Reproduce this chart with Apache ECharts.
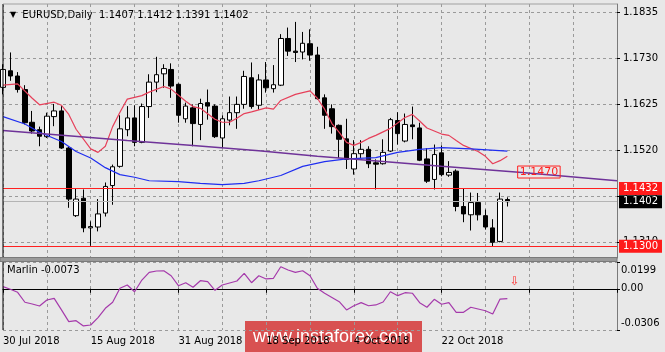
<!DOCTYPE html>
<html>
<head>
<meta charset="utf-8">
<script src="https://cdn.jsdelivr.net/npm/echarts@6/dist/echarts.min.js"></script>
<style>
  html, body { margin: 0; padding: 0; background: #e8e8e8; }
  #chart { width: 665px; height: 352px; }
</style>
</head>
<body>
<div id="chart"></div>
<script>
// EURUSD daily, 30 Jul 2018 .. early Nov 2018 (+ empty slots on the right like MT4 chart shift)
const slotCount = 85;
const dateTicks = ['30 Jul 2018', '15 Aug 2018', '31 Aug 2018', '18 Sep 2018', '4 Oct 2018', '22 Oct 2018'];

const opens = [1.1664, 1.1702, 1.1690, 1.1659, 1.1584, 1.1567, 1.1551, 1.1597, 1.1610, 1.1525,
  1.1370, 1.1410, 1.1342, 1.1344, 1.1376, 1.1439, 1.1483, 1.1567, 1.1594, 1.1538,
  1.1620, 1.1676, 1.1695, 1.1705, 1.1671, 1.1592, 1.1617, 1.1579, 1.1629, 1.1621,
  1.1548, 1.1589, 1.1606, 1.1625, 1.1686, 1.1623, 1.1681, 1.1661, 1.1669, 1.1776,
  1.1747, 1.1745, 1.1764, 1.1738, 1.1640, 1.1615, 1.1577, 1.1546, 1.1477, 1.1512,
  1.1522, 1.1491, 1.1489, 1.1518, 1.1588, 1.1541, 1.1578, 1.1571, 1.1500, 1.1453,
  1.1514, 1.1463, 1.1472, 1.1391, 1.1372, 1.1400, 1.1370, 1.1342, 1.1311, 1.1407];
const highs = [1.1717, 1.1744, 1.1699, 1.1669, 1.1610, 1.1574, 1.1606, 1.1626, 1.1621, 1.1529,
  1.1433, 1.1430, 1.1357, 1.1408, 1.1446, 1.1487, 1.1600, 1.1621, 1.1623, 1.1627,
  1.1694, 1.1734, 1.1717, 1.1719, 1.1673, 1.1629, 1.1625, 1.1638, 1.1659, 1.1625,
  1.1600, 1.1643, 1.1643, 1.1702, 1.1721, 1.1694, 1.1722, 1.1715, 1.1786, 1.1801,
  1.1814, 1.1791, 1.1797, 1.1757, 1.1648, 1.1625, 1.1579, 1.1592, 1.1543, 1.1543,
  1.1529, 1.1499, 1.1545, 1.1594, 1.1607, 1.1604, 1.1620, 1.1583, 1.1525, 1.1533,
  1.1531, 1.1495, 1.1476, 1.1433, 1.1423, 1.1422, 1.1384, 1.1362, 1.1423, 1.1412];
const lows = [1.1648, 1.1679, 1.1652, 1.1579, 1.1558, 1.1529, 1.1548, 1.1575, 1.1523, 1.1388,
  1.1367, 1.1332, 1.1301, 1.1334, 1.1368, 1.1395, 1.1480, 1.1552, 1.1529, 1.1536,
  1.1594, 1.1653, 1.1663, 1.1640, 1.1583, 1.1583, 1.1529, 1.1543, 1.1590, 1.1548,
  1.1525, 1.1577, 1.1569, 1.1615, 1.1615, 1.1613, 1.1652, 1.1652, 1.1667, 1.1736,
  1.1722, 1.1728, 1.1725, 1.1636, 1.1569, 1.1558, 1.1502, 1.1477, 1.1464, 1.1502,
  1.1479, 1.1430, 1.1487, 1.1516, 1.1533, 1.1538, 1.1545, 1.1495, 1.1445, 1.1430,
  1.1460, 1.1459, 1.1380, 1.1355, 1.1336, 1.1359, 1.1338, 1.1300, 1.1309, 1.1391];
const closes = [1.1705, 1.1690, 1.1659, 1.1583, 1.1564, 1.1552, 1.1598, 1.1610, 1.1525, 1.1408,
  1.1408, 1.1342, 1.1345, 1.1374, 1.1437, 1.1482, 1.1569, 1.1594, 1.1538, 1.1620,
  1.1676, 1.1693, 1.1707, 1.1667, 1.1600, 1.1621, 1.1581, 1.1627, 1.1621, 1.1551,
  1.1592, 1.1606, 1.1625, 1.1689, 1.1620, 1.1681, 1.1663, 1.1670, 1.1776, 1.1747,
  1.1744, 1.1765, 1.1738, 1.1638, 1.1600, 1.1574, 1.1545, 1.1499, 1.1512, 1.1522,
  1.1489, 1.1488, 1.1515, 1.1590, 1.1558, 1.1579, 1.1574, 1.1497, 1.1449, 1.1510,
  1.1464, 1.1469, 1.1391, 1.1374, 1.1400, 1.1372, 1.1344, 1.1309, 1.1408, 1.1402];

// moving averages / trend line, read at [bar index, price]
const fastMA = [[0, 1.1669], [2, 1.1672], [4, 1.1639], [5, 1.1624], [7, 1.1630], [8, 1.1623], [9, 1.1602],
  [10, 1.1568], [12, 1.1523], [13, 1.1515], [14, 1.1529], [15, 1.1574], [16, 1.1607], [17, 1.1637],
  [19, 1.1645], [20, 1.1653], [22, 1.1666], [23, 1.1660], [25, 1.1632], [26, 1.1620], [27, 1.1616],
  [29, 1.1591], [30, 1.1584], [31, 1.1584], [32, 1.1593], [33, 1.1604], [34, 1.1608], [36, 1.1617],
  [37, 1.1614], [38, 1.1634], [40, 1.1648], [42, 1.1656], [43, 1.1639], [44, 1.1614], [45, 1.1581],
  [46, 1.1561], [47, 1.1538], [48, 1.1531], [49, 1.1538], [50, 1.1547], [51, 1.1554], [53, 1.1570],
  [55, 1.1595], [56, 1.1602], [57, 1.1587], [58, 1.1571], [60, 1.1557], [61, 1.1554], [62, 1.1542],
  [63, 1.1531], [65, 1.1517], [66, 1.1506], [67, 1.1489], [68, 1.1496], [69, 1.1506]];
const slowMA = [[0, 1.1597], [3, 1.1580], [5, 1.1561], [8, 1.1540], [10, 1.1517], [12, 1.1502], [14, 1.1480],
  [16, 1.1464], [18, 1.1458], [20, 1.1450], [24, 1.1448], [27, 1.1444], [30, 1.1441], [33, 1.1444],
  [35, 1.1450], [38, 1.1462], [41, 1.1483], [44, 1.1494], [47, 1.1500], [51, 1.1503], [54, 1.1515],
  [57, 1.1522], [60, 1.1526], [64, 1.1523], [69, 1.1518]];
const trendLine = [[0, 1.1565], [17, 1.1542], [26, 1.1531], [35, 1.1519], [43, 1.1506], [52, 1.1494],
  [60, 1.1483], [71, 1.1469], [84, 1.1450]];
const trendLabel = 1.1470;

const marlin = [0.0016, -0.0003, -0.0026, -0.0100, -0.0113, -0.0128, -0.0083, -0.0071, -0.0157, -0.0244,
  -0.0237, -0.0276, -0.0269, -0.0214, -0.0145, -0.0100, 0.0004, 0.0028, -0.0022, 0.0065,
  0.0122, 0.0132, 0.0134, 0.0097, 0.0023, 0.0045, 0.0011, 0.0060, 0.0053, -0.0011,
  0.0028, 0.0043, 0.0058, 0.0115, 0.0045, 0.0097, 0.0073, 0.0078, 0.0164, 0.0140,
  0.0122, 0.0134, 0.0097, 0.0004, -0.0033, -0.0064, -0.0096, -0.0157, -0.0126, -0.0103,
  -0.0126, -0.0120, -0.0098, -0.0022, -0.0051, -0.0029, -0.0033, -0.0103, -0.0137, -0.0078,
  -0.0115, -0.0103, -0.0175, -0.0175, -0.0137, -0.0150, -0.0163, -0.0187, -0.0076, -0.0073];

const priceTicks = [1.1310, 1.1415, 1.1520, 1.1625, 1.1730, 1.1835];
const marlinTicks = [0.0199, 0, -0.0306];
const resistance = 1.1432;
const support = 1.1300;
const bid = 1.1402;

const font = 'DejaVu Sans';
const gridDash = { color: '#9a9a9a', type: [3, 3], width: 1 };

const categories = Array.from({ length: slotCount }, (_, i) => String(i));
const candles = opens.map((o, i) => [o, closes[i], lows[i], highs[i]]);
const last = opens.length - 1;
const titleText = 'EURUSD,Daily  ' + [opens[last], highs[last], lows[last], closes[last]].map(v => v.toFixed(4)).join(' ');

// horizontal price level with the coloured price box on the right scale
function levelSeries(name, value, color, bg, z) {
  return {
    name: name, type: 'line', xAxisIndex: 0, yAxisIndex: 0, data: [], z: z,
    markLine: {
      silent: true, symbol: ['none', 'none'], animation: false, precision: 4,
      lineStyle: { color: color, width: 1, type: 'solid' },
      label: {
        show: true, position: 'end', distance: 2, formatter: value.toFixed(4),
        color: '#fff', backgroundColor: bg, padding: [2, 4, 1, 4],
        fontSize: 10, fontFamily: font
      },
      data: [{ yAxis: value }]
    }
  };
}

const chart = echarts.init(document.getElementById('chart'), null, { renderer: 'canvas' });

chart.setOption({
  animation: false,
  backgroundColor: '#e8e8e8',
  textStyle: { fontFamily: font },
  title: {
    left: 5, top: 5,
    text: '{tri|▼} ' + titleText,
    textStyle: {
      fontSize: 10, fontWeight: 'normal', color: '#000', fontFamily: font,
      rich: { tri: { fontSize: 8, color: '#000', padding: [0, 3, 0, 0] } }
    }
  },
  grid: [
    { left: 3, top: 4, width: 614, height: 254 },
    { left: 3, top: 262, width: 614, height: 68 }
  ],
  xAxis: [
    {
      type: 'category', gridIndex: 0, data: categories, boundaryGap: false,
      axisLine: { show: false }, axisTick: { show: false }, axisLabel: { show: false },
      splitLine: { show: true, interval: (i) => i % 6 === 0, lineStyle: gridDash }
    },
    {
      type: 'category', gridIndex: 1, data: categories, boundaryGap: false,
      axisLine: { show: true, lineStyle: { color: '#000', width: 1 } },
      axisTick: { show: true, interval: (i) => i % 12 === 0, length: 4, lineStyle: { color: '#000' } },
      axisLabel: {
        show: true, interval: (i) => i % 12 === 0, align: 'left', margin: 6,
        formatter: (v, i) => dateTicks[i / 12] || '',
        color: '#000', fontSize: 10, fontFamily: font, hideOverlap: false
      },
      splitLine: { show: true, interval: (i) => i % 6 === 0, lineStyle: gridDash }
    }
  ],
  yAxis: [
    {
      type: 'value', gridIndex: 0, position: 'right', min: 1.1273, max: 1.1855,
      axisLine: { show: true, lineStyle: { color: '#7a7a7a', width: 1 } },
      axisTick: { show: true, length: 3, customValues: priceTicks, lineStyle: { color: '#000' } },
      axisLabel: {
        customValues: priceTicks, formatter: (v) => v.toFixed(4), margin: 6,
        color: '#000', fontSize: 10, fontFamily: font
      },
      splitLine: { show: true, lineStyle: gridDash }
    },
    {
      type: 'value', gridIndex: 1, position: 'right', min: -0.0306, max: 0.0199,
      axisLine: { show: true, lineStyle: { color: '#7a7a7a', width: 1 } },
      axisTick: { show: true, length: 3, customValues: marlinTicks, lineStyle: { color: '#000' } },
      axisLabel: {
        customValues: marlinTicks, margin: 4, color: '#000', fontSize: 10, fontFamily: font,
        formatter: (v) => {
          if (v === 0) return '0.00';
          return v > 0 ? '{top|' + v.toFixed(4) + '}' : '{bot|' + v.toFixed(4) + '}';
        },
        rich: {
          top: { fontSize: 10, fontFamily: font, color: '#000', padding: [16, 0, 0, 0] },
          bot: { fontSize: 10, fontFamily: font, color: '#000', padding: [0, 0, 14, 0] }
        }
      },
      splitLine: { show: true, lineStyle: gridDash }
    }
  ],
  series: [
    levelSeries('bid', bid, '#b4b4b4', '#000000', 1),
    levelSeries('resistance', resistance, '#ff2020', '#ff1a1a', 1),
    levelSeries('support', support, '#ff2020', '#ff1a1a', 1),
    {
      name: 'EURUSD', type: 'candlestick', xAxisIndex: 0, yAxisIndex: 0,
      data: candles, barWidth: 5,
      itemStyle: { color: '#ffffff', color0: '#000000', borderColor: '#000000', borderColor0: '#000000', borderWidth: 1 }
    },
    {
      name: 'MA fast', type: 'line', xAxisIndex: 0, yAxisIndex: 0, data: fastMA,
      symbol: 'none', lineStyle: { color: '#e6405a', width: 1.2 }, z: 3
    },
    {
      name: 'MA slow', type: 'line', xAxisIndex: 0, yAxisIndex: 0, data: slowMA,
      symbol: 'none', lineStyle: { color: '#1f2ef0', width: 1.2 }, z: 3
    },
    {
      name: 'trend', type: 'line', xAxisIndex: 0, yAxisIndex: 0, data: trendLine,
      symbol: 'none', lineStyle: { color: '#6f3399', width: 1.5 }, z: 3,
      markPoint: {
        silent: true, symbol: 'rect', symbolSize: [0, 0],
        data: [{
          coord: [70, trendLabel],
          label: {
            show: true, position: 'right', distance: 3, formatter: trendLabel.toFixed(4),
            color: '#ff2020', borderColor: '#ff2020', borderWidth: 1, padding: [1, 2, 0, 2],
            fontSize: 11, fontFamily: font
          }
        }]
      }
    },
    {
      name: 'Marlin', type: 'line', xAxisIndex: 1, yAxisIndex: 1, data: marlin,
      symbol: 'none', lineStyle: { color: '#a53aab', width: 1.2 },
      markPoint: {
        silent: true, symbol: 'rect', symbolSize: [0, 0],
        data: [{
          coord: [70, 0.0050],
          label: { show: true, formatter: '⇩', color: '#ff3030', fontSize: 12, fontFamily: font }
        }]
      }
    }
  ],
  graphic: [
    { type: 'line', shape: { x1: 3, y1: 4, x2: 3, y2: 258 }, style: { stroke: '#000', lineWidth: 1 }, z: 10 },
    { type: 'line', shape: { x1: 3, y1: 262, x2: 3, y2: 330 }, style: { stroke: '#000', lineWidth: 1 }, z: 10 },
    { type: 'line', shape: { x1: 3, y1: 4, x2: 617, y2: 4 }, style: { stroke: '#a0a0a0', lineWidth: 1 }, z: 10 },
    { type: 'rect', shape: { x: 0, y: 257.5, width: 617, height: 4 }, style: { fill: '#9a9a9a', stroke: '#7a7a7a', lineWidth: 1 }, z: 10 },
    {
      type: 'text', left: 7, top: 265, z: 10,
      style: { text: 'Marlin ' + marlin[marlin.length - 1].toFixed(4), fill: '#000', font: '10px "DejaVu Sans"' }
    },
    {
      type: 'group', left: 245, top: 321, z: 20,
      children: [
        { type: 'rect', shape: { x: 0, y: 0, width: 177, height: 31 }, style: { fill: 'rgba(214, 64, 64, 0.9)' } },
        {
          type: 'text', x: 88, y: 16,
          style: { text: 'www.instaforex.com', fill: '#ffffff', font: '18px "Liberation Sans"', align: 'center', verticalAlign: 'middle' }
        }
      ]
    }
  ]
});
</script>
</body>
</html>
